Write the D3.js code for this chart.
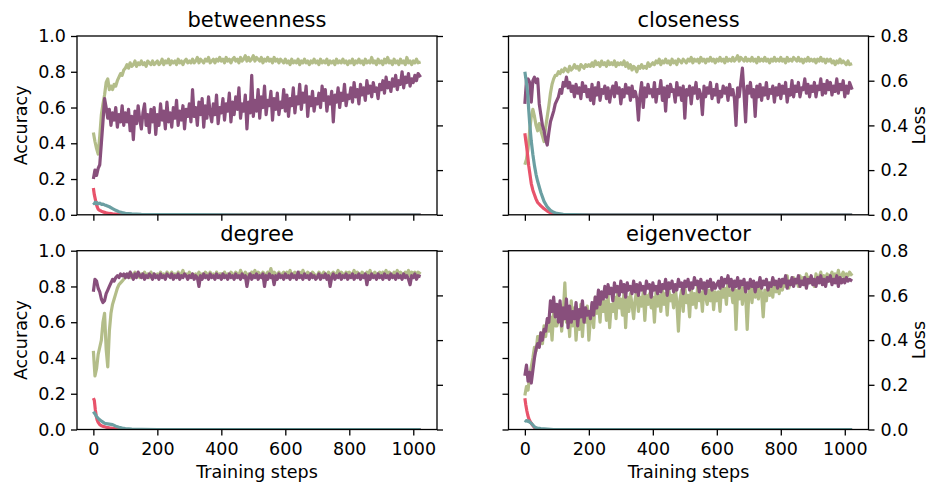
<!DOCTYPE html>
<html>
<head>
<meta charset="utf-8">
<script src="https://cdnjs.cloudflare.com/ajax/libs/d3/7.8.5/d3.min.js"></script>
<style>
  body { margin: 0; background: #fff; }
  text { font-family: "DejaVu Sans", sans-serif; }
</style>
</head>
<body>
<div id="chart"></div>
<script>
var titles = ["betweenness", "closeness", "degree", "eigenvector"];

// training steps for the accuracy curves, one row = 100 steps
var steps = [0,5,10,15,20,25,30,35,40,45,50,55,60,65,70,75,80,85,90,95,
  100,105,110,115,120,125,130,135,140,145,150,155,160,165,170,175,180,185,190,195,
  200,205,210,215,220,225,230,235,240,245,250,255,260,265,270,275,280,285,290,295,
  300,305,310,315,320,325,330,335,340,345,350,355,360,365,370,375,380,385,390,395,
  400,405,410,415,420,425,430,435,440,445,450,455,460,465,470,475,480,485,490,495,
  500,505,510,515,520,525,530,535,540,545,550,555,560,565,570,575,580,585,590,595,
  600,605,610,615,620,625,630,635,640,645,650,655,660,665,670,675,680,685,690,695,
  700,705,710,715,720,725,730,735,740,745,750,755,760,765,770,775,780,785,790,795,
  800,805,810,815,820,825,830,835,840,845,850,855,860,865,870,875,880,885,890,895,
  900,905,910,915,920,925,930,935,940,945,950,955,960,965,970,975,980,985,990,995,
  1000,1005,1010,1015,1023];

// steps for the loss curves
var lossSteps = [0,3,6,9,12,15,20,25,30,35,40,50,60,70,80,90,100,120,150,200,300,500,700,1023];

var accTicks = [0, 0.2, 0.4, 0.6, 0.8, 1.0];
var lossTicks = [0, 0.2, 0.4, 0.6, 0.8];
var stepTicks = [0, 200, 400, 600, 800, 1000];

// betweenness
var btwTrain = [0.46,0.41,0.37,0.34,0.44,0.56,0.62,0.67,0.74,0.76,0.70,0.72,0.70,0.73,0.72,0.75,0.77,0.79,0.78,0.81,
  0.82,0.84,0.82,0.85,0.83,0.84,0.86,0.83,0.85,0.84,0.86,0.84,0.85,0.83,0.86,0.85,0.84,0.86,0.84,0.85,
  0.86,0.84,0.85,0.87,0.84,0.86,0.85,0.87,0.84,0.86,0.85,0.86,0.84,0.87,0.85,0.86,0.84,0.86,0.87,0.85,
  0.86,0.85,0.87,0.85,0.86,0.88,0.85,0.87,0.86,0.85,0.87,0.86,0.88,0.85,0.86,0.87,0.85,0.87,0.86,0.88,
  0.86,0.87,0.85,0.88,0.86,0.87,0.85,0.87,0.88,0.86,0.87,0.85,0.88,0.86,0.87,0.89,0.86,0.88,0.86,0.87,
  0.89,0.86,0.88,0.87,0.86,0.88,0.85,0.87,0.86,0.88,0.86,0.87,0.85,0.88,0.86,0.87,0.85,0.87,0.86,0.85,
  0.87,0.85,0.86,0.84,0.87,0.85,0.86,0.85,0.87,0.84,0.86,0.85,0.87,0.85,0.86,0.84,0.86,0.85,0.87,0.85,
  0.86,0.84,0.87,0.85,0.86,0.85,0.87,0.84,0.86,0.85,0.86,0.84,0.87,0.85,0.86,0.85,0.87,0.85,0.86,0.84,
  0.86,0.85,0.87,0.84,0.86,0.85,0.87,0.85,0.86,0.84,0.87,0.85,0.86,0.85,0.88,0.85,0.86,0.84,0.87,0.85,
  0.86,0.84,0.87,0.85,0.88,0.85,0.86,0.84,0.87,0.85,0.86,0.84,0.87,0.85,0.86,0.84,0.88,0.85,0.86,0.84,
  0.86,0.85,0.87,0.85,0.855];
var btwVal = [0.20,0.25,0.22,0.26,0.28,0.40,0.52,0.65,0.60,0.54,0.59,0.50,0.57,0.53,0.60,0.49,0.56,0.52,0.61,0.50,
  0.57,0.52,0.59,0.47,0.55,0.42,0.58,0.51,0.61,0.53,0.48,0.57,0.62,0.50,0.56,0.46,0.59,0.52,0.60,0.45,
  0.56,0.50,0.62,0.53,0.58,0.48,0.63,0.52,0.57,0.49,0.60,0.54,0.64,0.50,0.58,0.53,0.61,0.48,0.59,0.55,
  0.62,0.52,0.70,0.55,0.60,0.50,0.63,0.56,0.65,0.49,0.61,0.54,0.66,0.57,0.52,0.62,0.56,0.67,0.51,0.60,
  0.57,0.65,0.53,0.62,0.58,0.68,0.52,0.63,0.56,0.66,0.59,0.71,0.54,0.62,0.58,0.67,0.48,0.63,0.57,0.78,
  0.55,0.64,0.58,0.70,0.54,0.66,0.60,0.72,0.56,0.64,0.61,0.69,0.53,0.65,0.59,0.68,0.56,0.63,0.60,0.70,
  0.58,0.67,0.55,0.65,0.61,0.71,0.57,0.66,0.62,0.73,0.59,0.68,0.63,0.72,0.55,0.66,0.61,0.69,0.58,0.65,
  0.62,0.68,0.60,0.72,0.64,0.70,0.58,0.66,0.62,0.69,0.52,0.67,0.63,0.71,0.60,0.68,0.64,0.73,0.61,0.67,
  0.65,0.71,0.63,0.74,0.66,0.70,0.62,0.73,0.67,0.71,0.64,0.75,0.68,0.72,0.66,0.74,0.69,0.71,0.65,0.73,
  0.70,0.75,0.68,0.77,0.71,0.74,0.69,0.76,0.72,0.78,0.70,0.75,0.73,0.80,0.71,0.77,0.74,0.79,0.72,0.76,
  0.74,0.78,0.75,0.79,0.77];
var btwLossA = [0.12,0.09,0.07,0.05,0.035,0.025,0.02,0.016,0.013,0.011,0.009,0.006,0.004,0.003,0.002,0.001,0.001,0.0005,0,0,0,0,0,0];
var btwLossB = [0.055,0.05,0.056,0.05,0.054,0.049,0.052,0.047,0.048,0.044,0.042,0.036,0.028,0.02,0.014,0.01,0.007,0.004,0.002,0.001,0.0005,0,0,0];

// closeness
var cloTrain = [0.28,0.31,0.37,0.47,0.55,0.59,0.55,0.50,0.47,0.51,0.47,0.44,0.41,0.49,0.55,0.61,0.68,0.73,0.76,0.78,
  0.78,0.80,0.79,0.81,0.80,0.82,0.81,0.80,0.83,0.81,0.82,0.84,0.82,0.83,0.81,0.84,0.83,0.82,0.84,0.83,
  0.84,0.83,0.85,0.83,0.86,0.84,0.85,0.83,0.86,0.84,0.85,0.83,0.86,0.84,0.85,0.84,0.86,0.83,0.85,0.84,
  0.85,0.84,0.86,0.83,0.85,0.82,0.84,0.81,0.83,0.82,0.80,0.83,0.82,0.84,0.82,0.83,0.82,0.85,0.83,0.84,
  0.85,0.84,0.86,0.85,0.87,0.84,0.86,0.85,0.87,0.85,0.86,0.84,0.87,0.85,0.86,0.84,0.87,0.86,0.85,0.87,
  0.86,0.85,0.87,0.86,0.88,0.85,0.87,0.86,0.87,0.85,0.88,0.86,0.87,0.85,0.87,0.86,0.88,0.86,0.87,0.85,
  0.87,0.86,0.88,0.86,0.87,0.85,0.88,0.86,0.87,0.86,0.88,0.86,0.87,0.89,0.86,0.88,0.87,0.86,0.88,0.86,
  0.87,0.86,0.88,0.86,0.87,0.85,0.88,0.86,0.87,0.86,0.88,0.86,0.87,0.85,0.87,0.86,0.88,0.86,0.87,0.86,
  0.88,0.86,0.87,0.85,0.88,0.86,0.87,0.86,0.88,0.87,0.86,0.88,0.86,0.87,0.85,0.87,0.86,0.88,0.86,0.87,
  0.86,0.87,0.85,0.87,0.86,0.88,0.86,0.87,0.85,0.87,0.86,0.87,0.85,0.86,0.84,0.86,0.85,0.87,0.85,0.86,
  0.85,0.84,0.86,0.84,0.845];
var cloVal = [0.62,0.75,0.76,0.74,0.63,0.75,0.77,0.74,0.76,0.62,0.56,0.50,0.47,0.42,0.39,0.46,0.52,0.55,0.58,0.62,
  0.64,0.66,0.70,0.68,0.74,0.72,0.77,0.71,0.74,0.69,0.72,0.66,0.73,0.68,0.71,0.65,0.74,0.69,0.72,0.66,
  0.70,0.64,0.73,0.62,0.71,0.67,0.74,0.64,0.70,0.68,0.72,0.65,0.71,0.63,0.69,0.72,0.66,0.74,0.68,0.71,
  0.62,0.70,0.66,0.73,0.68,0.71,0.64,0.72,0.66,0.69,0.65,0.53,0.67,0.74,0.60,0.71,0.66,0.73,0.68,0.70,
  0.66,0.74,0.63,0.70,0.68,0.75,0.64,0.71,0.58,0.72,0.66,0.73,0.69,0.70,0.63,0.74,0.67,0.71,0.64,0.72,
  0.54,0.70,0.67,0.72,0.62,0.71,0.68,0.74,0.65,0.70,0.67,0.56,0.72,0.66,0.71,0.68,0.74,0.65,0.70,0.67,
  0.73,0.63,0.69,0.66,0.72,0.68,0.71,0.64,0.73,0.67,0.70,0.65,0.50,0.71,0.66,0.74,0.82,0.68,0.52,0.72,
  0.68,0.74,0.66,0.70,0.55,0.72,0.66,0.73,0.64,0.71,0.67,0.74,0.65,0.70,0.68,0.72,0.63,0.71,0.67,0.73,
  0.65,0.72,0.68,0.74,0.63,0.70,0.67,0.75,0.66,0.72,0.69,0.74,0.66,0.71,0.70,0.76,0.68,0.73,0.66,0.72,
  0.69,0.74,0.66,0.72,0.70,0.76,0.67,0.73,0.68,0.75,0.70,0.74,0.67,0.72,0.69,0.76,0.68,0.73,0.70,0.75,
  0.66,0.72,0.68,0.74,0.70];
var cloLossA = [0.365,0.33,0.30,0.26,0.22,0.19,0.14,0.11,0.09,0.07,0.055,0.04,0.027,0.017,0.009,0.004,0.002,0.001,0,0,0,0,0,0];
var cloLossB = [0.64,0.61,0.58,0.54,0.47,0.41,0.33,0.27,0.22,0.18,0.15,0.10,0.06,0.035,0.02,0.011,0.006,0.002,0.001,0,0,0,0,0];

// degree
var degTrain = [0.44,0.30,0.34,0.42,0.46,0.50,0.60,0.65,0.45,0.35,0.55,0.65,0.70,0.73,0.76,0.79,0.81,0.82,0.83,0.84,
  0.85,0.86,0.87,0.85,0.87,0.86,0.88,0.86,0.87,0.85,0.87,0.86,0.88,0.86,0.87,0.85,0.88,0.86,0.87,0.86,
  0.87,0.86,0.88,0.86,0.87,0.85,0.88,0.87,0.86,0.88,0.86,0.87,0.85,0.88,0.86,0.87,0.89,0.86,0.87,0.86,
  0.88,0.86,0.87,0.85,0.87,0.86,0.88,0.86,0.87,0.86,0.88,0.87,0.86,0.88,0.86,0.87,0.85,0.88,0.86,0.87,
  0.87,0.85,0.88,0.86,0.87,0.86,0.88,0.87,0.86,0.88,0.87,0.86,0.89,0.87,0.86,0.88,0.86,0.87,0.85,0.88,
  0.87,0.89,0.86,0.88,0.87,0.86,0.88,0.87,0.86,0.88,0.87,0.90,0.86,0.88,0.87,0.86,0.88,0.86,0.87,0.88,
  0.86,0.88,0.87,0.89,0.86,0.87,0.88,0.86,0.87,0.88,0.86,0.89,0.87,0.86,0.88,0.87,0.86,0.88,0.87,0.86,
  0.86,0.88,0.87,0.86,0.88,0.87,0.86,0.88,0.86,0.87,0.88,0.86,0.87,0.89,0.86,0.88,0.87,0.86,0.88,0.87,
  0.88,0.86,0.87,0.89,0.86,0.88,0.87,0.86,0.88,0.87,0.86,0.88,0.87,0.89,0.86,0.87,0.88,0.86,0.87,0.88,
  0.86,0.88,0.87,0.89,0.86,0.88,0.87,0.86,0.88,0.87,0.89,0.86,0.88,0.87,0.86,0.88,0.87,0.89,0.86,0.88,
  0.87,0.88,0.86,0.88,0.87];
var degVal = [0.77,0.84,0.83,0.79,0.77,0.73,0.71,0.72,0.76,0.78,0.80,0.82,0.84,0.83,0.85,0.86,0.85,0.87,0.86,0.87,
  0.85,0.87,0.85,0.88,0.86,0.84,0.87,0.85,0.88,0.86,0.85,0.87,0.84,0.86,0.85,0.87,0.86,0.84,0.87,0.85,
  0.86,0.84,0.87,0.85,0.86,0.84,0.87,0.86,0.85,0.87,0.84,0.86,0.85,0.87,0.84,0.86,0.85,0.87,0.86,0.84,
  0.86,0.85,0.87,0.84,0.86,0.85,0.80,0.86,0.84,0.87,0.85,0.86,0.84,0.87,0.85,0.86,0.84,0.87,0.85,0.86,
  0.84,0.87,0.85,0.86,0.84,0.87,0.85,0.86,0.84,0.87,0.85,0.86,0.84,0.87,0.85,0.86,0.80,0.85,0.87,0.84,
  0.86,0.85,0.87,0.84,0.86,0.85,0.87,0.80,0.86,0.84,0.87,0.85,0.86,0.81,0.86,0.84,0.87,0.85,0.86,0.84,
  0.87,0.85,0.86,0.84,0.87,0.85,0.86,0.84,0.88,0.85,0.86,0.84,0.87,0.85,0.86,0.84,0.87,0.85,0.86,0.84,
  0.85,0.87,0.84,0.86,0.85,0.87,0.84,0.86,0.80,0.85,0.87,0.84,0.86,0.85,0.87,0.84,0.86,0.85,0.87,0.84,
  0.86,0.85,0.87,0.84,0.86,0.85,0.87,0.84,0.86,0.85,0.87,0.81,0.86,0.84,0.87,0.85,0.86,0.84,0.87,0.85,
  0.86,0.84,0.87,0.85,0.86,0.84,0.87,0.85,0.86,0.84,0.87,0.85,0.86,0.84,0.87,0.85,0.86,0.84,0.81,0.86,
  0.85,0.87,0.84,0.86,0.855];
var degLossA = [0.14,0.13,0.09,0.06,0.042,0.032,0.022,0.017,0.014,0.012,0.01,0.007,0.005,0.003,0.002,0.001,0,0,0,0,0,0,0,0];
var degLossB = [0.08,0.074,0.068,0.06,0.055,0.05,0.043,0.038,0.033,0.028,0.026,0.024,0.022,0.015,0.01,0.006,0.004,0.002,0.001,0,0,0,0,0];

// eigenvector
var eigTrain = [0.19,0.24,0.22,0.30,0.35,0.40,0.46,0.44,0.52,0.50,0.54,0.48,0.58,0.52,0.60,0.55,0.63,0.50,0.66,0.58,
  0.58,0.62,0.70,0.55,0.65,0.82,0.60,0.66,0.52,0.72,0.58,0.68,0.50,0.63,0.56,0.70,0.52,0.66,0.60,0.69,
  0.50,0.62,0.70,0.57,0.74,0.65,0.71,0.60,0.76,0.66,0.72,0.61,0.75,0.57,0.70,0.66,0.74,0.62,0.78,0.68,
  0.73,0.64,0.77,0.57,0.74,0.66,0.76,0.70,0.62,0.73,0.78,0.66,0.74,0.69,0.77,0.61,0.75,0.70,0.76,0.68,
  0.74,0.60,0.77,0.69,0.75,0.66,0.79,0.70,0.76,0.64,0.78,0.72,0.75,0.68,0.80,0.71,0.55,0.73,0.78,0.66,
  0.80,0.71,0.75,0.63,0.79,0.70,0.76,0.68,0.80,0.72,0.77,0.66,0.81,0.74,0.70,0.78,0.72,0.80,0.67,0.77,
  0.72,0.77,0.66,0.81,0.74,0.79,0.70,0.83,0.75,0.78,0.71,0.80,0.56,0.78,0.73,0.82,0.70,0.79,0.76,0.56,
  0.76,0.80,0.71,0.82,0.74,0.79,0.73,0.81,0.76,0.63,0.78,0.72,0.82,0.75,0.80,0.74,0.83,0.77,0.81,0.76,
  0.82,0.78,0.84,0.80,0.86,0.79,0.83,0.81,0.85,0.82,0.84,0.80,0.86,0.82,0.85,0.81,0.87,0.83,0.85,0.82,
  0.84,0.80,0.87,0.83,0.85,0.88,0.82,0.86,0.84,0.87,0.83,0.86,0.88,0.84,0.87,0.85,0.89,0.84,0.86,0.88,
  0.85,0.87,0.86,0.88,0.86];
var eigVal = [0.30,0.36,0.27,0.32,0.26,0.33,0.40,0.45,0.48,0.46,0.54,0.50,0.56,0.55,0.62,0.60,0.72,0.66,0.74,0.63,
  0.70,0.60,0.72,0.58,0.68,0.62,0.73,0.57,0.69,0.60,0.66,0.62,0.71,0.58,0.67,0.63,0.72,0.60,0.68,0.64,
  0.66,0.62,0.71,0.64,0.74,0.68,0.78,0.70,0.77,0.73,0.80,0.74,0.81,0.76,0.79,0.72,0.82,0.77,0.80,0.75,
  0.83,0.77,0.81,0.74,0.82,0.78,0.80,0.76,0.83,0.77,0.81,0.75,0.82,0.78,0.80,0.76,0.83,0.79,0.81,0.74,
  0.82,0.78,0.80,0.76,0.83,0.77,0.81,0.79,0.84,0.75,0.82,0.79,0.83,0.77,0.81,0.78,0.84,0.80,0.82,0.76,
  0.83,0.80,0.84,0.78,0.82,0.79,0.85,0.81,0.83,0.77,0.84,0.79,0.82,0.76,0.83,0.80,0.84,0.78,0.82,0.79,
  0.81,0.83,0.79,0.85,0.80,0.84,0.82,0.86,0.80,0.84,0.78,0.83,0.80,0.85,0.79,0.83,0.81,0.84,0.77,0.82,
  0.79,0.84,0.80,0.83,0.77,0.82,0.80,0.85,0.79,0.83,0.81,0.84,0.78,0.82,0.80,0.85,0.81,0.83,0.79,0.84,
  0.80,0.84,0.82,0.86,0.79,0.83,0.81,0.85,0.80,0.84,0.82,0.86,0.80,0.83,0.81,0.85,0.79,0.84,0.82,0.86,
  0.81,0.84,0.80,0.85,0.82,0.86,0.81,0.84,0.80,0.85,0.83,0.86,0.81,0.84,0.82,0.86,0.80,0.85,0.82,0.84,
  0.82,0.85,0.83,0.84,0.83];
var eigLossA = [0.14,0.11,0.085,0.065,0.05,0.04,0.028,0.018,0.009,0.005,0.003,0.001,0,0,0,0,0,0,0,0,0,0,0,0];
var eigLossB = [0.042,0.038,0.04,0.036,0.038,0.033,0.028,0.02,0.012,0.008,0.006,0.004,0.003,0.002,0.001,0,0,0,0,0,0,0,0,0];

var colors = { train: "#b3bd89", val: "#884f7c", lossA: "#e8536b", lossB: "#6b9fa2" };

var panels = [
  { title: titles[0], train: btwTrain, val: btwVal, lossA: btwLossA, lossB: btwLossB, col: 0, row: 0 },
  { title: titles[1], train: cloTrain, val: cloVal, lossA: cloLossA, lossB: cloLossB, col: 1, row: 0 },
  { title: titles[2], train: degTrain, val: degVal, lossA: degLossA, lossB: degLossB, col: 0, row: 1 },
  { title: titles[3], train: eigTrain, val: eigVal, lossA: eigLossA, lossB: eigLossB, col: 1, row: 1 }
];

var W = 930, H = 484;
var colX = [77, 508.5], rowY = [36, 250.7];
var pw = 360, ph = 178.8;
var FS = 17.5;

var svg = d3.select("#chart").append("svg")
    .attr("width", W)
    .attr("height", H);

panels.forEach(function (p, k) { drawPanel(p, k); });

function styleAxis(sel) {
    sel.attr("font-size", FS).attr("font-family", "DejaVu Sans, sans-serif");
    sel.select(".domain").remove();
    sel.selectAll(".tick line").attr("stroke", "#000").attr("stroke-width", 1.3);
    sel.selectAll(".tick text").attr("fill", "#000");
}

function drawPanel(p, k) {
    var left = colX[p.col], top = rowY[p.row];
    var g = svg.append("g").attr("transform", "translate(" + left + "," + top + ")");

    var x = d3.scaleLinear().domain([-51.15, 1074.15]).range([0, pw]);
    var y = d3.scaleLinear().domain([0, 1]).range([ph, 0]);
    var yLoss = d3.scaleLinear().domain([0, 0.8]).range([ph, 0]);

    g.append("clipPath").attr("id", "clip" + k)
        .append("rect").attr("width", pw).attr("height", ph);

    var accLine = d3.line()
        .x(function (d, i) { return x(steps[i]); })
        .y(function (d) { return y(d); });
    var lossLine = d3.line()
        .x(function (d, i) { return x(lossSteps[i]); })
        .y(function (d) { return yLoss(d); });

    var lines = g.append("g").attr("clip-path", "url(#clip" + k + ")");
    [[p.train, accLine, colors.train], [p.val, accLine, colors.val],
     [p.lossA, lossLine, colors.lossA], [p.lossB, lossLine, colors.lossB]].forEach(function (s) {
        lines.append("path")
            .datum(s[0])
            .attr("d", s[1])
            .attr("fill", "none")
            .attr("stroke", s[2])
            .attr("stroke-width", 3.2)
            .attr("stroke-linejoin", "round");
    });

    //X axis
    g.append("g")
        .attr("transform", "translate(0," + ph + ")")
        .call(d3.axisBottom(x).tickValues(stepTicks).tickSize(6).tickPadding(7)
            .tickFormat(p.row == 1 ? d3.format("d") : function () { return ""; }))
        .call(styleAxis);

    //Y axis (accuracy)
    g.append("g")
        .call(d3.axisLeft(y).tickValues(accTicks).tickSize(6).tickPadding(5)
            .tickFormat(p.col == 0 ? d3.format(".1f") : function () { return ""; }))
        .call(styleAxis);

    //Y axis (loss)
    g.append("g")
        .attr("transform", "translate(" + pw + ",0)")
        .call(d3.axisRight(yLoss).tickValues(lossTicks).tickSize(6).tickPadding(6)
            .tickFormat(p.col == 1 ? d3.format(".1f") : function () { return ""; }))
        .call(styleAxis);

    // frame
    g.append("rect")
        .attr("width", pw).attr("height", ph)
        .attr("fill", "none").attr("stroke", "#000").attr("stroke-width", 1.3);

    // title
    g.append("text")
        .attr("x", pw / 2).attr("y", -9.3)
        .attr("text-anchor", "middle")
        .attr("font-size", 21)
        .text(p.title);

    if (p.col == 0) {
        svg.append("text")
            .attr("transform", "translate(26.5," + (top + ph / 2) + ") rotate(-90)")
            .attr("text-anchor", "middle")
            .attr("font-size", FS)
            .text("Accuracy");
    } else {
        svg.append("text")
            .attr("transform", "translate(924.5," + (top + ph / 2) + ") rotate(-90)")
            .attr("text-anchor", "middle")
            .attr("font-size", FS)
            .text("Loss");
    }

    if (p.row == 1) {
        svg.append("text")
            .attr("x", left + pw / 2).attr("y", 478)
            .attr("text-anchor", "middle")
            .attr("font-size", FS)
            .text("Training steps");
    }
}
</script>
</body>
</html>
